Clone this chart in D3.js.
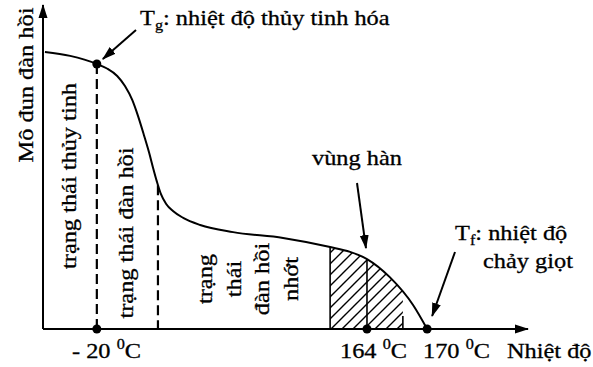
<!DOCTYPE html>
<html>
<head>
<meta charset="utf-8">
<script src="https://cdn.jsdelivr.net/npm/d3@7"></script>
<style>
  html, body { margin: 0; padding: 0; background: #fff; }
  svg { display: block; }
</style>
</head>
<body>
<svg id="chart" width="593" height="367"></svg>
<script>
// Schematic elastic modulus vs. temperature curve of a thermoplastic (arbitrary units, 0–100)
const curveX = [0.4, 5.6, 11.1, 13.2, 15.3, 16.9, 18.4, 19.6, 20.8, 21.9, 22.7, 23.5, 24.3, 25.4, 26.8, 28.9, 32.4, 39.2, 49.5, 59.2, 63.3, 66.8, 71.5, 76.3, 79.2];
const curveY = [85.5, 84.3, 81.8, 80.4, 78.1, 75.0, 70.7, 65.7, 59.9, 54.3, 49.7, 45.4, 41.7, 38.6, 36.4, 34.3, 32.1, 29.9, 28.1, 25.3, 23.8, 21.6, 16.0, 7.4, 0];

// Characteristic temperatures along the axis
const tgX = 11.1;                    // glass transition, -20 °C
const rubberEndX = 23.7;             // end of the rubbery plateau region
const weldZone = [59.2, 66.8, 74.2]; // welding window: start, 164 °C, end
const tfX = 79.2;                    // flow temperature, 170 °C

// Axis tick labels
const tickPos = [tgX, weldZone[1], tfX];
const tickText = ["- 20", "164", "170"];
const tickUnit = "C";

const svg = d3.select("#chart");
const x = d3.scaleLinear().domain([0, 100]).range([43, 528]);
const y = d3.scaleLinear().domain([0, 100]).range([329, 5]);

const FONT = "Liberation Serif";
const FS = 21;     // base font size
const SX = 1.16;   // horizontal stretch of the typeface

const defs = svg.append("defs");
defs.append("marker")
  .attr("id", "arrow").attr("markerUnits", "userSpaceOnUse")
  .attr("viewBox", "0 0 14 10").attr("refX", 13).attr("refY", 5)
  .attr("markerWidth", 14).attr("markerHeight", 10).attr("orient", "auto")
  .append("path").attr("d", "M0,0.5 L14,5 L0,9.5 Z").attr("fill", "#000");

const hatch = defs.append("pattern")
  .attr("id", "hatch").attr("patternUnits", "userSpaceOnUse")
  .attr("width", 11).attr("height", 11);
hatch.append("path")
  .attr("d", "M0,11 L11,0 M-3,3 L3,-3 M8,14 L14,8")
  .attr("stroke", "#000").attr("stroke-width", 1.4);

defs.append("clipPath").attr("id", "weldClip")
  .append("rect")
  .attr("x", x(weldZone[0])).attr("y", 0)
  .attr("width", x(weldZone[2]) - x(weldZone[0])).attr("height", y(0));

const pts = curveX.map((v, i) => [v, curveY[i]]);
const smooth = d3.curveMonotoneX;
const line = d3.line().x(d => x(d[0])).y(d => y(d[1])).curve(smooth);
const area = d3.area().x(d => x(d[0])).y0(y(0)).y1(d => y(d[1])).curve(smooth);

// Hatched welding window under the curve
svg.append("path").datum(pts)
  .attr("d", area).attr("fill", "url(#hatch)").attr("clip-path", "url(#weldClip)");

// Main curve
const curvePath = svg.append("path").datum(pts)
  .attr("d", line).attr("fill", "none").attr("stroke", "#000").attr("stroke-width", 2);

// Pixel y of the curve at a given pixel x (curve is monotone in x)
const pathNode = curvePath.node();
const totalLen = pathNode.getTotalLength();
function curveYAt(px) {
  let lo = 0, hi = totalLen;
  for (let i = 0; i < 40; i++) {
    const mid = (lo + hi) / 2;
    if (pathNode.getPointAtLength(mid).x < px) lo = mid; else hi = mid;
  }
  return pathNode.getPointAtLength((lo + hi) / 2).y;
}

// Dashed boundaries of the glassy / rubbery regions
[tgX, rubberEndX].forEach(v => {
  svg.append("line")
    .attr("x1", x(v)).attr("x2", x(v))
    .attr("y1", curveYAt(x(v))).attr("y2", y(0))
    .attr("stroke", "#000").attr("stroke-width", 2.2).attr("stroke-dasharray", "10,5");
});

// Borders of the welding window
svg.append("line")
  .attr("x1", x(weldZone[0])).attr("x2", x(weldZone[0]))
  .attr("y1", curveYAt(x(weldZone[0]))).attr("y2", y(0))
  .attr("stroke", "#000").attr("stroke-width", 1.6);
svg.append("line")
  .attr("x1", x(weldZone[1])).attr("x2", x(weldZone[1]))
  .attr("y1", curveYAt(x(weldZone[1]))).attr("y2", y(0))
  .attr("stroke", "#000").attr("stroke-width", 1.6);
svg.append("line")
  .attr("x1", x(weldZone[2])).attr("x2", x(weldZone[2]))
  .attr("y1", y(4)).attr("y2", y(0))
  .attr("stroke", "#000").attr("stroke-width", 1.6);

// Axes with arrow heads
svg.append("line")
  .attr("x1", x(0)).attr("y1", y(0)).attr("x2", x(0)).attr("y2", y(100))
  .attr("stroke", "#000").attr("stroke-width", 2).attr("marker-end", "url(#arrow)");
svg.append("line")
  .attr("x1", x(0)).attr("y1", y(0)).attr("x2", x(100)).attr("y2", y(0))
  .attr("stroke", "#000").attr("stroke-width", 2).attr("marker-end", "url(#arrow)");

// Marker dots
const dots = [[tgX, curveYAt(x(tgX))], [tgX, y(0)], [weldZone[1], y(0)], [tfX, y(0)]];
svg.selectAll("circle.dot").data(dots).join("circle")
  .attr("class", "dot").attr("cx", d => x(d[0])).attr("cy", d => d[1])
  .attr("r", 4.5).attr("fill", "#000");

// Text helper: position, rotation, anchor; typeface stretched along the reading direction
function label(px, py, rot, anchor) {
  return svg.append("text")
    .attr("transform", `translate(${px},${py}) rotate(${rot}) scale(${SX},1)`)
    .attr("text-anchor", anchor)
    .style("font-family", FONT)
    .style("font-size", FS + "px")
    .attr("fill", "#000")
    .attr("stroke", "#000").attr("stroke-width", 0.3);
}

// Axis titles
label(33, 85, -90, "middle").text("Mô đun đàn hồi");
label(507, 358, 0, "start").text("Nhiệt độ");

// Tick labels with superscript degree sign
tickPos.forEach((v, i) => {
  const startX = [72, 340, 423][i];
  const t = label(startX, 358, 0, "start");
  t.append("tspan").text(tickText[i] + " ");
  t.append("tspan").style("font-size", "14px").attr("dy", -9).text("0");
  t.append("tspan").attr("dy", 9).text(tickUnit);
});

// Region names
label(76, 176, -90, "middle").text("trạng thái thủy tinh");
label(133, 233, -90, "middle").text("trạng thái đàn hồi");
["trạng", "thái", "đàn hồi", "nhớt"].forEach((s, i) => {
  label(212 + i * 28.5, 279, -90, "middle").text(s);
});

// Annotations
const tg = label(140, 25, 0, "start");
tg.append("tspan").text("T");
tg.append("tspan").style("font-size", "14px").attr("dy", 5).text("g");
tg.append("tspan").attr("dy", -5).text(": nhiệt độ thủy tinh hóa");

label(312, 165, 0, "start").text("vùng hàn");

const tf = label(455, 240, 0, "start");
tf.append("tspan").text("T");
tf.append("tspan").style("font-size", "14px").attr("dy", 5).text("f");
tf.append("tspan").attr("dy", -5).text(": nhiệt độ");
label(483, 268, 0, "start").text("chảy giọt");

// Pointer arrows
function arrow(x1, y1, x2, y2) {
  svg.append("line")
    .attr("x1", x1).attr("y1", y1).attr("x2", x2).attr("y2", y2)
    .attr("stroke", "#000").attr("stroke-width", 2).attr("marker-end", "url(#arrow)");
}
arrow(136, 30, x(tgX) + 6, curveYAt(x(tgX)) - 5);
arrow(357, 183, x(weldZone[1]) - 1, curveYAt(x(weldZone[1])) - 11);
arrow(455, 252, x(tfX) + 5, y(0) - 13);
</script>
</body>
</html>
